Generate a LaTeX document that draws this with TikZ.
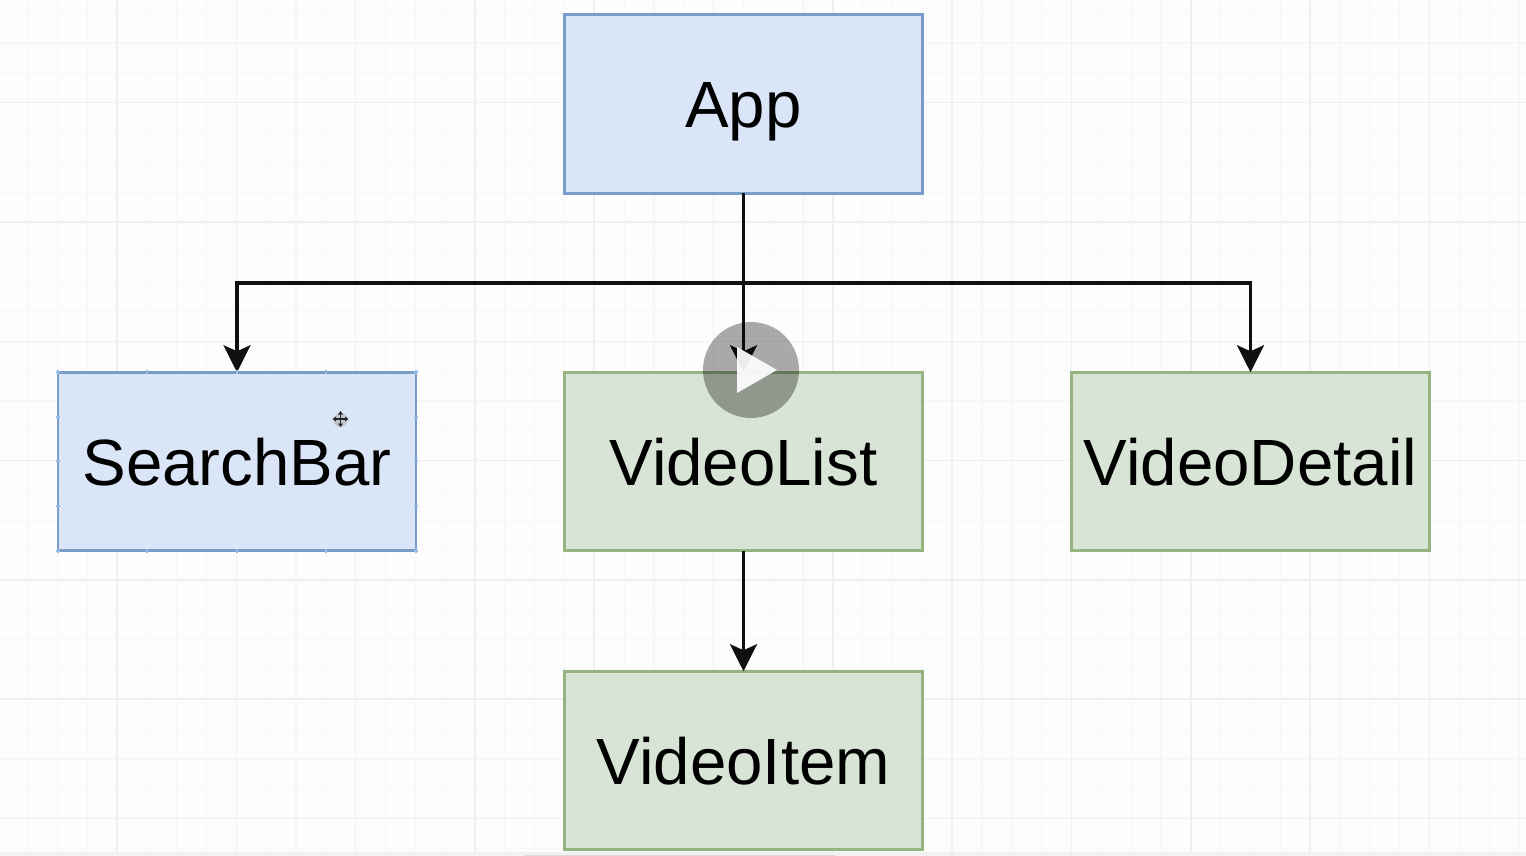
\documentclass[tikz,border=0pt]{standalone}
\usepackage{fontspec}
\setmainfont{Liberation Sans}
\usetikzlibrary{arrows.meta}
\definecolor{pagebg}{HTML}{FDFDFD}
\definecolor{gridminor}{HTML}{F7F7F7}
\definecolor{gridmajor}{HTML}{EFEFEF}
\definecolor{bluefill}{HTML}{DAE6F8}
\definecolor{blueline}{HTML}{7A9CC8}
\definecolor{greenfill}{HTML}{D8E4D5}
\definecolor{greenline}{HTML}{96B480}
\definecolor{handleblue}{HTML}{8FBDE8}
\definecolor{linkblack}{HTML}{101010}
\tikzset{
  x=1pt,y=-1pt,
  box/.style={draw,line width=2.6pt,minimum width=358pt,minimum height=178.5pt,outer sep=0pt,inner sep=0pt,
    text height=48pt,text depth=0pt,text=black,font=\fontsize{65.4}{65.4}\selectfont},
  bluebox/.style={box,fill=bluefill,draw=blueline},
  greenbox/.style={box,fill=greenfill,draw=greenline},
  link/.style={draw=linkblack,line width=3.2pt,-{Stealth[length=27pt,width=27pt,inset=6pt]}},
  handle/.style={draw=handleblue,line width=2pt},
  minorgrid/.style={draw=gridminor,line width=1.2pt},
  majorgrid/.style={draw=gridmajor,line width=1.6pt},
}
\begin{document}
\begin{tikzpicture}
\useasboundingbox (0,0) rectangle (1526,856);
\fill[pagebg] (0,0) rectangle (1526,856);
% grid
\foreach \k in {-3,...,47} {\draw[minorgrid] ({117+29.83*\k},0) -- ({117+29.83*\k},852);}
\foreach \k in {-7,...,21} {\draw[minorgrid] (0,{222+29.83*\k}) -- (1526,{222+29.83*\k});}
\foreach \k in {0,...,11} {\draw[majorgrid] ({117+119.32*\k},0) -- ({117+119.32*\k},852);}
\foreach \k in {-1,...,5} {\draw[majorgrid] (0,{222+119.32*\k}) -- (1526,{222+119.32*\k});}
% bottom strip
\fill[black!5] (0,852) rectangle (1526,856);
\fill[black!14] (525,854.5) rectangle (835,856);
% nodes
\node[bluebox] (app) at (743.5,104) {App};
\node[bluebox] (search) at (237,461.5) {SearchBar};
\node[greenbox] (list) at (743.5,461.5) {VideoList};
\node[greenbox] (detail) at (1250.5,461.5) {VideoDetail};
\node[greenbox] (item) at (743.5,760.5) {VideoItem};
\coordinate (bus) at (743.5,283);
% connectors
\draw[link] (app.south) -- (list.north);
\draw[link] (bus) -| (search.north);
\draw[link] (bus) -| (detail.north);
\draw[link] (list.south) -- (item.north);
% selection handles
\foreach \x in {58,147,237,326,416} {
  \draw[handle] (\x,370) -- (\x,374);
  \draw[handle] (\x,549) -- (\x,553);
}
\foreach \y in {372,417,461,506,551} {
  \draw[handle] (56,\y) -- (60,\y);
  \draw[handle] (414,\y) -- (418,\y);
}
% move cursor
\fill[black!30,opacity=.6] (340.5,420) circle (7);
\draw[black!85,line width=1.3pt] (334,419) -- (347,419) (340.5,412.5) -- (340.5,425.5);
\fill[black!85] (340.5,411) -- (343,414.5) -- (338,414.5) -- cycle
  (340.5,427) -- (343,423.5) -- (338,423.5) -- cycle
  (332.5,419) -- (336,416.5) -- (336,421.5) -- cycle
  (348.5,419) -- (345,416.5) -- (345,421.5) -- cycle;
% video play overlay
\fill[black,opacity=.33] (751,370) circle (48);
\fill[white,opacity=.93] (737,347) -- (777,370) -- (737,393) -- cycle;
\end{tikzpicture}
\end{document}
